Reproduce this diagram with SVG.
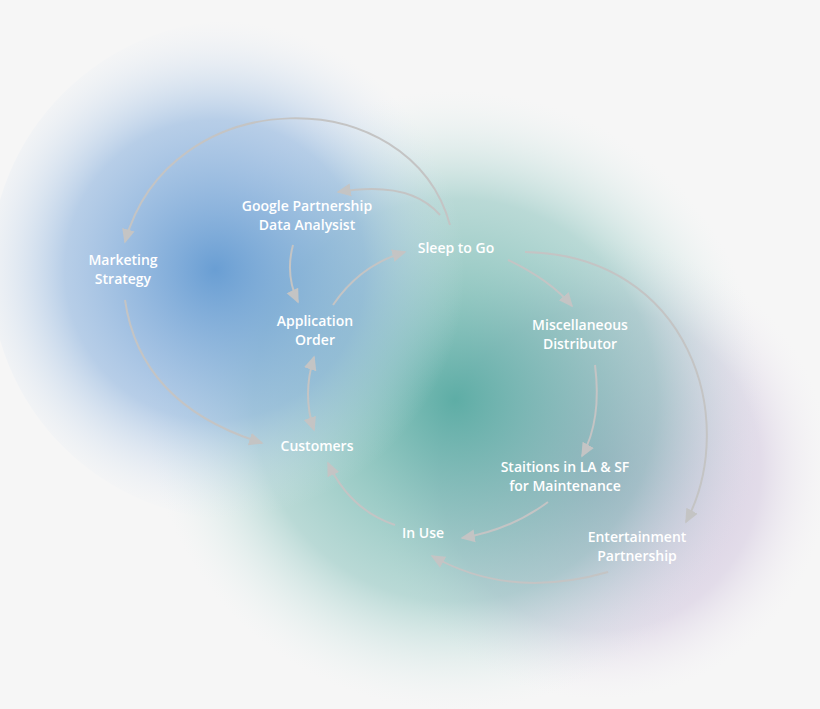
<svg xmlns="http://www.w3.org/2000/svg" width="820" height="709" viewBox="0 0 820 709">
<defs>
<radialGradient id="gb" cx="0.45" cy="0.5" r="0.5"><stop offset="0" stop-color="#5b95d0" stop-opacity="0.9"/><stop offset="0.6" stop-color="#8db3de" stop-opacity="0.6"/><stop offset="1" stop-color="#dfe9f5" stop-opacity="0"/></radialGradient>
<radialGradient id="gt" cx="0.5" cy="0.5" r="0.5"><stop offset="0" stop-color="#4fa89e" stop-opacity="0.9"/><stop offset="0.65" stop-color="#7dbdb6" stop-opacity="0.5"/><stop offset="1" stop-color="#dcefed" stop-opacity="0"/></radialGradient>
<radialGradient id="gp" cx="0.5" cy="0.5" r="0.5"><stop offset="0" stop-color="#9a86b8" stop-opacity="0.6"/><stop offset="0.7" stop-color="#c5b5d6" stop-opacity="0.4"/><stop offset="1" stop-color="#efe8f3" stop-opacity="0"/></radialGradient>
<marker id="ah" viewBox="0 0 10 10" refX="8" refY="5" markerWidth="8" markerHeight="8" orient="auto-start-reverse"><path d="M0,1 L9,5 L0,9 z" fill="#c4c4c4"/></marker>
<style>
.c{fill:none;stroke:#c4c4c4;stroke-width:2;marker-end:url(#ah)}
.t{font-family:"Open Sans",sans-serif;font-weight:600;font-size:14px;fill:#fff;text-anchor:middle}
</style>
</defs>
<rect width="820" height="709" fill="#f6f6f6"/>
<circle cx="600" cy="470" r="230" fill="url(#gp)"/>
<circle cx="455" cy="400" r="310" fill="url(#gt)"/>
<circle cx="240" cy="270" r="250" fill="url(#gb)"/>
<g id="connectors">
<path class="c" d="M450,225 C410,80 170,80 125,242"/>
<path class="c" d="M440,215 Q410,180 338,192"/>
<path class="c" d="M293,245 Q285,275 298,302"/>
<path class="c" d="M333,305 Q360,265 405,252"/>
<path class="c" style="marker-start:url(#ah)" d="M314,357 Q302,395 314,430"/>
<path class="c" d="M125,300 Q140,405 262,443"/>
<path class="c" d="M508,260 Q550,280 572,306"/>
<path class="c" d="M595,365 Q602,420 582,456"/>
<path class="c" d="M548,502 Q510,530 462,538"/>
<path class="c" d="M395,525 Q350,510 328,463"/>
<path class="c" d="M525,252 C690,255 740,420 686,522"/>
<path class="c" d="M608,572 Q510,600 432,556"/>
</g>
<g id="n-google"><text class="t" x="307" y="211">Google Partnership</text><text class="t" x="307" y="230">Data Analysist</text></g>
<g id="n-sleep"><text class="t" x="456" y="253">Sleep to Go</text></g>
<g id="n-marketing"><text class="t" x="123" y="265">Marketing</text><text class="t" x="123" y="284">Strategy</text></g>
<g id="n-app"><text class="t" x="315" y="326">Application</text><text class="t" x="315" y="345">Order</text></g>
<g id="n-misc"><text class="t" x="580" y="330">Miscellaneous</text><text class="t" x="580" y="349">Distributor</text></g>
<g id="n-customers"><text class="t" x="317" y="451">Customers</text></g>
<g id="n-stations"><text class="t" x="565" y="472">Staitions in LA &amp; SF</text><text class="t" x="565" y="491">for Maintenance</text></g>
<g id="n-inuse"><text class="t" x="423" y="538">In Use</text></g>
<g id="n-ent"><text class="t" x="637" y="542">Entertainment</text><text class="t" x="637" y="561">Partnership</text></g>
</svg>
